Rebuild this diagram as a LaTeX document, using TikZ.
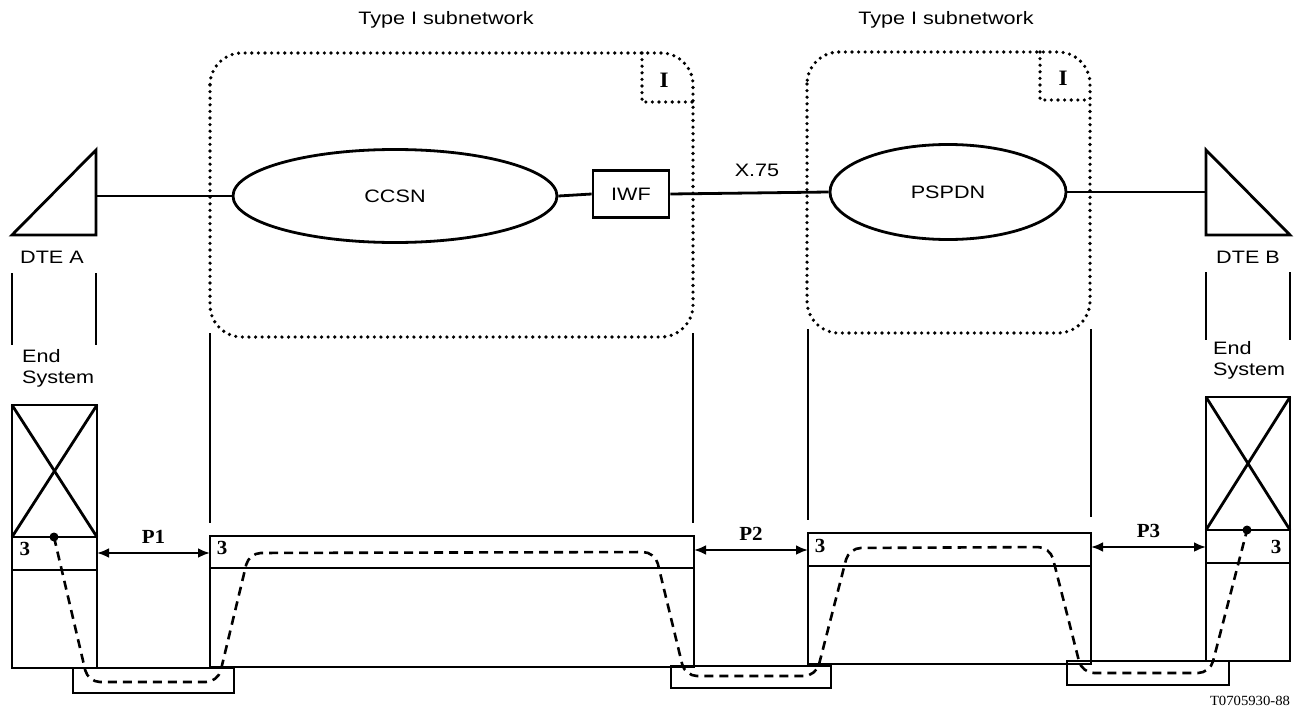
\documentclass[tikz,border=0pt]{standalone}
\usepackage{fontspec}
\setmainfont[FakeStretch=1.2]{Liberation Sans}
\newfontfamily\serifA[FakeStretch=1.05]{Liberation Serif}
\usetikzlibrary{shapes.geometric,arrows.meta}
\tikzset{
  solid line/.style={line width=2.8pt},
  dotline/.style={line width=3.6pt, line cap=round, dash pattern=on 0pt off 6.6pt},
  dashpath/.style={line width=2.6pt, dash pattern=on 9pt off 6pt, rounded corners=12pt},
  netellipse/.style={ellipse, draw, line width=2.8pt, inner sep=0pt, font=\fontsize{18}{20}\selectfont},
  iwfbox/.style={rectangle, draw, line width=2.8pt, minimum width=76pt, minimum height=47pt, inner sep=0pt, font=\fontsize{18}{20}\selectfont},
  lab/.style={font=\fontsize{18}{21}\selectfont, inner sep=0pt},
  serlab/.style={font=\serifA\bfseries\fontsize{20}{22}\selectfont, inner sep=0pt},
  ilab/.style={font=\serifA\bfseries\fontsize{22}{24}\selectfont, inner sep=0pt},
  parrow/.style={line width=2.6pt, {Latex[length=12pt,width=10pt]}-{Latex[length=12pt,width=10pt]}},
}
\begin{document}
\begin{tikzpicture}[x=1pt,y=-1pt]
\useasboundingbox (0,0) rectangle (1303,709);

% subnetwork labels
\node[lab] (t1) at (446,20) {Type I subnetwork};
\node[lab] (t2) at (946,20) {Type I subnetwork};

% dotted subnetwork outlines
\draw[dotline, rounded corners=32pt] (210,53) rectangle (693,337);
\draw[dotline] (642,53) -- (642,102) -- (693,102);
\node[ilab] (i1) at (664,80) {I};
\draw[dotline, rounded corners=32pt] (807,52) rectangle (1090,333);
\draw[dotline] (1040,52) -- (1040,100) -- (1090,100);
\node[ilab] (i2) at (1063,78) {I};

% networks
\node[netellipse, minimum width=324pt, minimum height=93pt] (ccsn) at (395,196) {CCSN};
\node[iwfbox] (iwf) at (631,194) {IWF};
\node[netellipse, minimum width=236pt, minimum height=95pt] (pspdn) at (948,192) {PSPDN};
\node[lab] (x75) at (757,170) {X.75};

% DTE A
\coordinate (dteA) at (96,196);
\draw[solid line, line join=miter] (96,150) -- (96,235) -- (12,235) -- cycle;
\node[lab] (dteAl) at (52,257) {DTE A};
% DTE B
\coordinate (dteB) at (1206,192);
\draw[solid line, line join=miter] (1206,150) -- (1206,235) -- (1290,235) -- cycle;
\node[lab] (dteBl) at (1248,257) {DTE B};

\draw[solid line] (dteA) -- (ccsn.west);
\draw[solid line] (ccsn.east) -- (iwf.west);
\draw[solid line] (iwf.east) -- (pspdn.west);
\draw[solid line] (pspdn.east) -- (dteB);

% vertical guide lines
\draw[solid line] (12,273) -- (12,345);
\draw[solid line] (96,273) -- (96,345);
\draw[solid line] (1206,272) -- (1206,340);
\draw[solid line] (1290,272) -- (1290,340);
\draw[solid line] (210,333) -- (210,523);
\draw[solid line] (693,333) -- (693,523);
\draw[solid line] (808,329) -- (808,520);
\draw[solid line] (1091,329) -- (1091,517);

% End system labels
\node[lab, align=left, anchor=north west] (esA) at (22,349) {End\\System};
\node[lab, align=left, anchor=north west] (esB) at (1213,341) {End\\System};

% bottom small boxes
\draw[solid line] (73,668) rectangle (234,693);
\draw[solid line] (671,666) rectangle (831,688);
\draw[solid line] (1067,661) rectangle (1229,685);

% End system A
\draw[solid line] (12,405) rectangle (97,668);
\draw[solid line] (12,405) -- (97,537);
\draw[solid line] (97,405) -- (12,537);
\draw[solid line] (12,537) -- (97,537);
\draw[solid line] (12,570) -- (97,570);
\node[serlab] (a3) at (25,549) {3};
\coordinate (pA) at (97,553);

% layer box 1
\draw[solid line] (210,536) rectangle (694,667);
\draw[solid line] (210,568) -- (694,568);
\node[serlab] (b3) at (222,548) {3};
\coordinate (p1l) at (210,553);
\coordinate (p2l) at (694,550);

% layer box 2
\draw[solid line] (808,533) rectangle (1091,664);
\draw[solid line] (808,566) -- (1091,566);
\node[serlab] (c3) at (820,546) {3};
\coordinate (p2r) at (808,550);
\coordinate (p3l) at (1091,547);

% End system B
\draw[solid line] (1206,397) rectangle (1290,661);
\draw[solid line] (1206,397) -- (1290,530);
\draw[solid line] (1290,397) -- (1206,530);
\draw[solid line] (1206,530) -- (1290,530);
\draw[solid line] (1206,563) -- (1290,563);
\node[serlab] (d3) at (1276,547) {3};
\coordinate (p3r) at (1206,547);

% protocol arrows
\draw[parrow] (pA) -- node[serlab, above=8pt] (P1) {P1} (p1l);
\draw[parrow] (p2l) -- node[serlab, above=8pt] (P2) {P2} (p2r);
\draw[parrow] (p3l) -- node[serlab, above=8pt] (P3) {P3} (p3r);

% dashed path
\coordinate (dotA) at (54,537);
\coordinate (dotB) at (1247,530);
\fill (dotA) circle (4.5pt);
\fill (dotB) circle (4.5pt);
\draw[dashpath] (dotA) -- (88,682) -- (218,682) -- (249,553) -- (655,552) -- (685,676) -- (816,676) -- (849,548) -- (1050,547) -- (1082,673) -- (1210,673) -- (dotB);

\node[font=\serifA\fontsize{14}{15}\selectfont, inner sep=0pt] (code) at (1250,701) {T0705930-88};
\end{tikzpicture}
\end{document}
